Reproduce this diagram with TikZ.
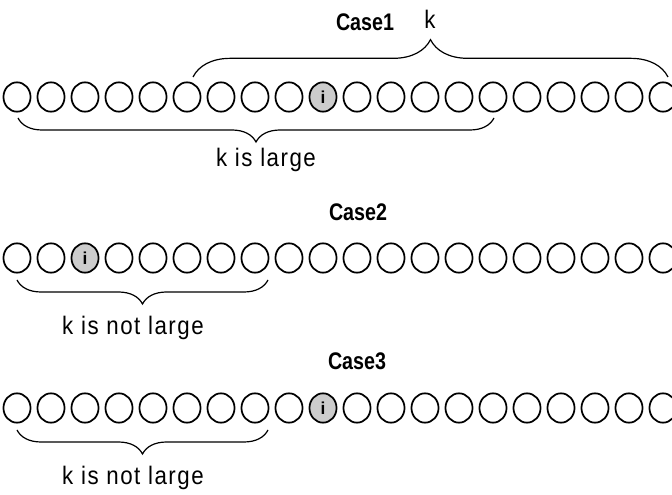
\documentclass[tikz,border=0pt]{standalone}
\usepackage{fontspec}
\setmainfont{Liberation Sans}
\newfontfamily\narrowbold[FakeStretch=0.82]{Liberation Sans Bold}
\newfontfamily\narrowreg[FakeStretch=0.88,LetterSpace=6]{Liberation Sans}
\usetikzlibrary{decorations.pathreplacing,shapes.geometric}
\begin{document}
\begin{tikzpicture}[x=0.75pt,y=-0.75pt,
  ball/.style={ellipse,draw=black,line width=1.3pt,minimum width=20.3pt,minimum height=22pt,inner sep=0pt,fill=white},
  markball/.style={ball,fill=gray!40,font=\fontsize{13}{13}\selectfont\bfseries},
  bracedown/.style={decorate,decoration={brace,mirror,amplitude=18pt},line width=0.9pt},
  braceup/.style={decorate,decoration={brace,amplitude=28pt},line width=0.9pt},
  casetext/.style={font=\fontsize{18}{18}\narrowbold},
  lbl/.style={font=\fontsize{19}{19}\narrowreg}]
\useasboundingbox (0,0) rectangle (672,495);
% row 1
\foreach \i in {0,...,19}{
  \ifnum\i=9
    \node[markball] (a\i) at ({17+34*\i},97) {i};
  \else
    \node[ball] (a\i) at ({17+34*\i},97) {};
  \fi
}
% row 2
\foreach \i in {0,...,19}{
  \ifnum\i=2
    \node[markball] (b\i) at ({17+34*\i},258) {i};
  \else
    \node[ball] (b\i) at ({17+34*\i},258) {};
  \fi
}
% row 3
\foreach \i in {0,...,19}{
  \ifnum\i=9
    \node[markball] (c\i) at ({17+34*\i},408) {i};
  \else
    \node[ball] (c\i) at ({17+34*\i},408) {};
  \fi
}
% texts
\node[casetext] (case1) at (365,22) {Case1};
\node[lbl] (k) at (430,19) {k};
\node[lbl] (t1) at (266,160) {k is large};
\node[casetext] (case2) at (358,212) {Case2};
\node[lbl] (t2) at (133,328) {k is not large};
\node[casetext] (case3) at (357,361) {Case3};
\node[lbl] (t3) at (133,478) {k is not large};
% brace coordinates
\coordinate (u1) at (193,77);
\coordinate (u2) at (668,77);
\coordinate (d1) at (18,118);
\coordinate (d2) at (494,118);
\coordinate (e1) at (17,280);
\coordinate (e2) at (268,280);
\coordinate (f1) at (17,430);
\coordinate (f2) at (268,430);
\draw[braceup] (u1) -- (u2);
\draw[bracedown] (d1) -- (d2);
\draw[bracedown] (e1) -- (e2);
\draw[bracedown] (f1) -- (f2);
\end{tikzpicture}
\end{document}
